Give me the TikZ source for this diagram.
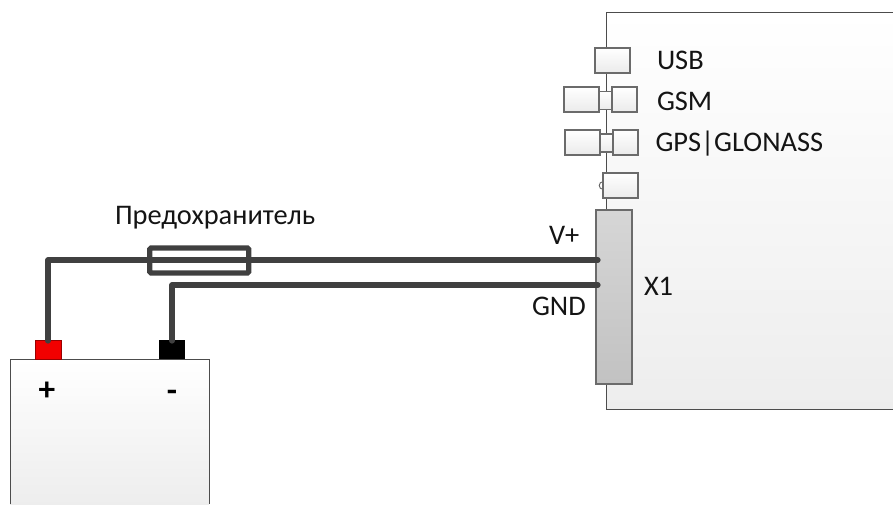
\documentclass[tikz,border=0pt]{standalone}
\usepackage{fontspec}
\setmainfont{Carlito}
\tikzset{
  sz/.style 2 args={minimum width=#1*0.75pt,minimum height=#2*0.75pt},
  part/.style={draw=#1,line width=0.8pt,inner sep=0pt,outer sep=0pt,anchor=north west},
  conn/.style={part=black!58,top color=white,bottom color=black!8},
  xconn/.style={part=black!58,top color=black!16,bottom color=black!24},
  term/.style={inner sep=0pt,outer sep=0pt,anchor=north west},
  wire/.style={draw=black!75,line width=3.9pt,line cap=round,line join=round},
  lbl/.style={inner sep=0pt,outer sep=0pt,anchor=base west,font=\fontsize{21.3}{21.3}\selectfont,text=black!92},
  edge/.style={draw=black!70,line width=0.75pt},
}
\begin{document}
\begin{tikzpicture}[x=0.75pt,y=-0.75pt]
\useasboundingbox (0,0) rectangle (893,504);
% device body
\shade[top color=white,bottom color=black!7] (606,12) rectangle (893,409);
\draw[edge] (893,12) -- (606,12) -- (606,409) -- (893,409);
% battery body
\shade[top color=white,bottom color=black!7] (10,359) rectangle (209,504);
\draw[edge] (10,504) -- (10,359) -- (209,359) -- (209,504);
% connectors on the device
\node[conn,sz={35}{25}] (usb) at (595,48) {};
\node[conn,sz={35}{25}] (gsmL) at (564,87) {};
\node[conn,sz={13}{18}] (gsmM) at (599,91.5) {};
\node[conn,sz={25}{25}] (gsmR) at (612,87) {};
\node[conn,sz={35}{25}] (gpsL) at (565,130) {};
\node[conn,sz={13}{18}] (gpsM) at (600,134) {};
\node[conn,sz={25}{25}] (gpsR) at (613,130) {};
\node[circle,draw=black!60,line width=0.7pt,fill=white,inner sep=0pt,minimum size=5.7pt] (led) at (603,185.5) {};
\node[conn,sz={35}{25}] (btn) at (603,173) {};
\node[xconn,sz={36}{174}] (x1) at (596,210) {};
% battery terminals
\node[term,fill=red!95!black,draw=red!60!black,line width=0.6pt,sz={26}{19}] (plus) at (35,340) {};
\node[term,fill=black,sz={26}{19}] (minus) at (159,340) {};
% named wire ends
\coordinate (vp) at (598,260);
\coordinate (gnd) at (598,285);
% wires
\draw[wire] (plus.north) ++(0,1) |- (vp);
\draw[wire] (minus.north) ++(0,1) |- (gnd);
% fuse
\node[part=black!75,line width=3.9pt,rounded corners=1pt,sz={99}{25}] (fuse) at (149.7,248) {};
% labels
\node[lbl] (tusb) at (657,69) {USB};
\node[lbl] (tgsm) at (657,110) {GSM};
\node[lbl] (tgps) at (655.5,151) {GPS|GLONASS};
\node[lbl] (tfuse) at (115,224) {Предохранитель};
\node[lbl] (tvp) at (549,244) {V+};
\node[lbl] (tgnd) at (532,315.5) {GND};
\node[lbl] (tx1) at (644,295) {X1};
\node[inner sep=0pt,font=\fontsize{25}{25}\selectfont\bfseries] (tplus) at (47,391) {+};
\node[inner sep=0pt,font=\fontsize{25}{25}\selectfont\bfseries] (tminus) at (172,396) {-};
\end{tikzpicture}
\end{document}
